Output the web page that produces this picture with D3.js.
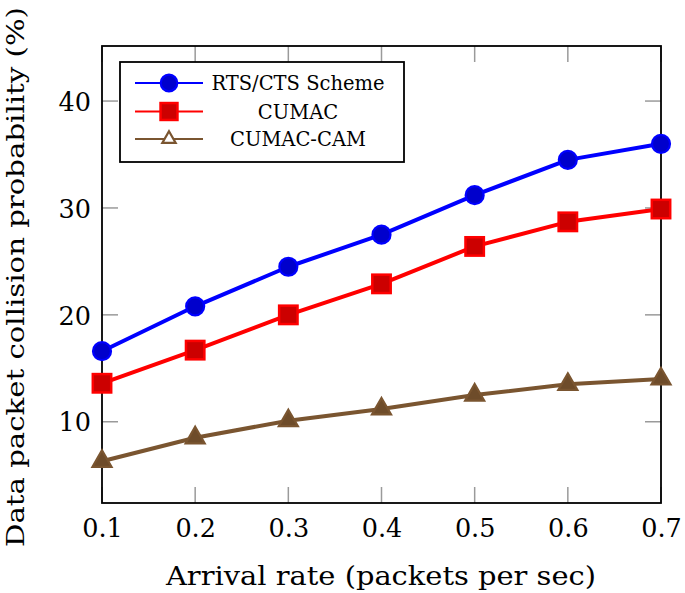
<!DOCTYPE html>
<html>
<head>
<meta charset="utf-8">
<script src="https://cdn.jsdelivr.net/npm/d3@7"></script>
<style>
  html, body { margin: 0; padding: 0; background: #fff; }
  svg { display: block; }
  text { font-family: "DejaVu Serif", "Liberation Serif", serif; fill: #000; }
</style>
</head>
<body>
<svg id="chart" width="685" height="593"></svg>
<script>
// ---- data ----
const arrivalRates = [0.1, 0.2, 0.3, 0.4, 0.5, 0.6, 0.7];
const rtsCts   = [16.6, 20.8, 24.5, 27.5, 31.2, 34.5, 36.0];
const cumac    = [13.6, 16.7, 20.0, 22.9, 26.4, 28.7, 29.9];
const cumacCam = [6.3, 8.5, 10.1, 11.2, 12.5, 13.5, 14.0];
const xTicks = [0.1, 0.2, 0.3, 0.4, 0.5, 0.6, 0.7];
const yTicks = [10, 20, 30, 40];
const seriesNames = ["RTS/CTS Scheme", "CUMAC", "CUMAC-CAM"];
const xLabel = "Arrival rate (packets per sec)";
const yLabel = "Data packet collision probability (%)";

// ---- layout ----
const svg = d3.select("#chart");
const L = 102, R = 661, T = 46, B = 503;
const x = d3.scaleLinear().domain([0.1, 0.7]).range([L, R]);
const y = d3.scaleLinear().domain([2.4, 45.15]).range([B, T]);

const styles = [
  { stroke: "#0000ff", fill: "#0000cc", mark: "circle" },
  { stroke: "#ff0000", fill: "#cc0000", mark: "square" },
  { stroke: "#7a5530", fill: "#6e4c2a", mark: "triangle" }
];
const data = [rtsCts, cumac, cumacCam];

// ---- ticks (inside, grey) ----
const tickLen = 16, tickColor = "#9a9a9a";
const gt = svg.append("g").attr("stroke", tickColor).attr("stroke-width", 1.5);
xTicks.forEach(t => {
  gt.append("line").attr("x1", x(t)).attr("x2", x(t)).attr("y1", B).attr("y2", B - tickLen);
  gt.append("line").attr("x1", x(t)).attr("x2", x(t)).attr("y1", T).attr("y2", T + tickLen);
});
yTicks.forEach(t => {
  gt.append("line").attr("x1", L).attr("x2", L + tickLen).attr("y1", y(t)).attr("y2", y(t));
  gt.append("line").attr("x1", R).attr("x2", R - tickLen).attr("y1", y(t)).attr("y2", y(t));
});

// ---- axis labels via d3 axes (no tick lines) ----
const xAxis = d3.axisBottom(x).tickValues(xTicks).tickFormat(d3.format(".1f")).tickSize(0).tickPadding(0);
const gx = svg.append("g").attr("transform", `translate(0,${B})`).call(xAxis);
gx.select(".domain").remove();
gx.selectAll("text").attr("font-size", 25.5).attr("dy", null).attr("y", 34)
  .style("font-family", '"DejaVu Serif", serif');

const yAxis = d3.axisLeft(y).tickValues(yTicks).tickFormat(d3.format("d")).tickSize(0).tickPadding(0);
const gy = svg.append("g").attr("transform", `translate(${L - 11},0)`).call(yAxis);
gy.select(".domain").remove();
gy.selectAll("text").attr("font-size", 25.5).attr("dy", "0.36em").attr("x", 0)
  .style("font-family", '"DejaVu Serif", serif');

// ---- frame ----
svg.append("rect").attr("x", L).attr("y", T).attr("width", R - L).attr("height", B - T)
  .attr("fill", "none").attr("stroke", "#000").attr("stroke-width", 1.8);

// ---- series ----
const line = d3.line().x((d, i) => x(arrivalRates[i])).y(d => y(d));
function drawMark(g, kind, cx, cy, st, scale, hollow) {
  const s = scale || 1;
  if (kind === "circle") {
    g.append("circle").attr("cx", cx).attr("cy", cy).attr("r", 9 * s)
      .attr("fill", st.fill).attr("stroke", st.stroke).attr("stroke-width", 2.2);
  } else if (kind === "square") {
    const h = 9.2 * s;
    g.append("rect").attr("x", cx - h).attr("y", cy - h).attr("width", 2 * h).attr("height", 2 * h)
      .attr("fill", st.fill).attr("stroke", st.stroke).attr("stroke-width", 2.5);
  } else {
    const r = 11 * s;
    const pts = [[cx, cy - r], [cx + r * Math.sqrt(3) / 2, cy + r / 2], [cx - r * Math.sqrt(3) / 2, cy + r / 2]];
    g.append("polygon").attr("points", pts.map(p => p.join(",")).join(" "))
      .attr("fill", hollow ? "#fff" : st.fill).attr("stroke", st.stroke).attr("stroke-width", 2.2)
      .attr("stroke-linejoin", "miter");
  }
}
data.forEach((vals, k) => {
  const st = styles[k];
  const g = svg.append("g");
  g.append("path").datum(vals).attr("d", line).attr("fill", "none")
    .attr("stroke", st.stroke).attr("stroke-width", 4).attr("stroke-linejoin", "round");
  vals.forEach((v, i) => drawMark(g, st.mark, x(arrivalRates[i]), y(v), st, 1, false));
});

// ---- legend ----
const lg = svg.append("g");
lg.append("rect").attr("x", 120).attr("y", 62).attr("width", 284).attr("height", 100)
  .attr("fill", "#fff").attr("stroke", "#000").attr("stroke-width", 1.8);
const legendY = [83, 111.5, 139];
seriesNames.forEach((name, k) => {
  const st = styles[k];
  const ly = legendY[k];
  lg.append("line").attr("x1", 135).attr("x2", 203).attr("y1", ly).attr("y2", ly)
    .attr("stroke", st.stroke).attr("stroke-width", 1.8);
  drawMark(lg, st.mark, 169, ly, st, k === 2 ? 0.7 : 0.92, k === 2);
  lg.append("text").attr("x", 298).attr("y", ly).attr("dy", "0.36em")
    .attr("text-anchor", "middle").attr("font-size", 19.5).text(name);
});

// ---- axis titles ----
svg.append("text").attr("x", 381).attr("y", 585).attr("text-anchor", "middle")
  .attr("font-size", 25.5).attr("textLength", 430).attr("lengthAdjust", "spacingAndGlyphs").text(xLabel);
svg.append("text").attr("transform", "translate(24,277) rotate(-90)")
  .attr("text-anchor", "middle").attr("font-size", 24.5)
  .attr("textLength", 540).attr("lengthAdjust", "spacingAndGlyphs").text(yLabel);
</script>
</body>
</html>
